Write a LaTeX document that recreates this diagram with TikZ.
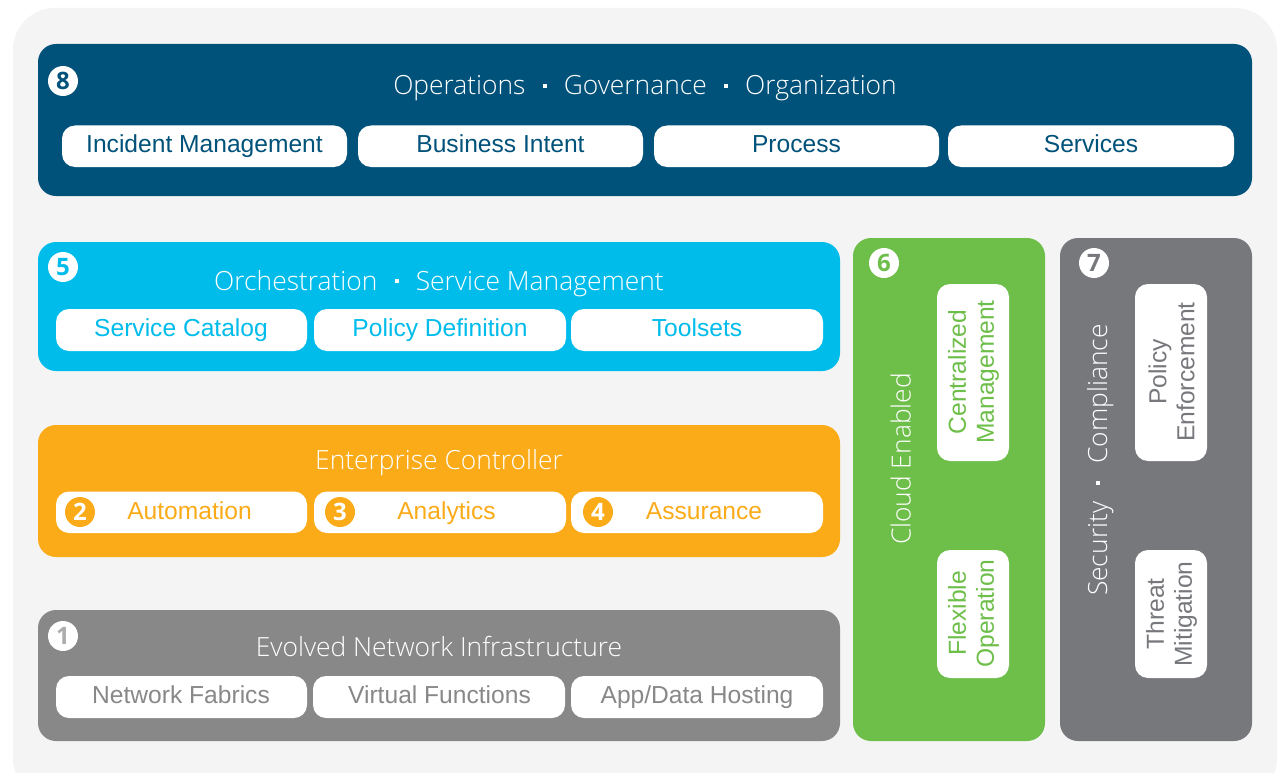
\documentclass[tikz,border=0pt]{standalone}
\usepackage{fontspec}
\setmainfont{Open Sans Light}
\newfontfamily\chipfont{Liberation Sans}
\newfontfamily\numfont{Open Sans}
\definecolor{bgc}{HTML}{F4F4F4}
\definecolor{navy}{HTML}{00527A}
\definecolor{sky}{HTML}{00BCEB}
\definecolor{amber}{HTML}{FBAB18}
\definecolor{midgray}{HTML}{888888}
\definecolor{leaf}{HTML}{6EBE4A}
\definecolor{slate}{HTML}{77787C}
\tikzset{
  x=1pt,y=-1pt,
  panel/.style={rounded corners=18pt,inner sep=0pt,fill=#1,draw=none},
  chip/.style={rounded corners=13pt,inner sep=0pt,fill=white,draw=none},
  title/.style={text=white,font=\fontsize{26.4}{30}\selectfont,inner sep=0pt,anchor=base},
  vtitle/.style={text=white,font=\fontsize{26.4}{30}\selectfont,inner sep=0pt,rotate=90,anchor=base},
  badge/.style={circle,inner sep=0pt,minimum size=30pt,fill=white,text=#1,font=\numfont\bfseries\fontsize{24}{24}\selectfont},
  badgeinv/.style={circle,inner sep=0pt,minimum size=30pt,fill=#1,text=white,font=\numfont\bfseries\fontsize{24}{24}\selectfont},
  chiplabel/.style={text=#1,inner sep=0pt,anchor=base,font=\chipfont\fontsize{24.6}{28}\selectfont},
  vlabel/.style={text=#1,inner sep=0pt,rotate=90,align=center,font=\chipfont\fontsize{24.6}{28}\selectfont},
}
\newcommand{\sep}{\hspace{0.65em}\raisebox{0.27em}{\rule{4pt}{4pt}}\hspace{0.65em}}
\newcommand{\rbox}[6]{% name, style, x0, y0, x1, y1
  \path[#2] (#3,#4) rectangle (#5,#6);
  \coordinate (#1) at ({(#3+#5)/2},{(#4+#6)/2});
}
\begin{document}
\begin{tikzpicture}
\useasboundingbox (0,0) rectangle (1282,773);
\fill[white] (0,0) rectangle (1282,773);
\begin{scope}
\clip (0,0) rectangle (1282,773);
\fill[bgc,rounded corners=42pt] (13,8) rectangle (1277,800);
\end{scope}
% panels
\rbox{p8}{panel=navy}{38}{44}{1252}{196}
\rbox{p5}{panel=sky}{38}{242}{840}{371}
\rbox{pc}{panel=amber}{38}{425}{840}{557}
\rbox{p1}{panel=midgray}{38}{610}{840}{741}
\rbox{p6}{panel=leaf}{853}{238}{1045}{741}
\rbox{p7}{panel=slate}{1060}{238}{1252}{741}
% titles
\node[title] (t8) at (645,95) {Operations\sep Governance\sep Organization};
\node[title] (t5) at (439,290.5) {Orchestration\sep Service Management};
\node[title] (tc) at (439,469) {Enterprise Controller};
\node[title] (t1) at (439,656) {Evolved Network Infrastructure};
\node[vtitle] (t6) at (910.5,459) {Cloud Enabled};
\node[vtitle] (t7) at (1107,460) {Security\sep Compliance};
% chips row 8
\rbox{c81}{chip}{62}{125.5}{347}{167}
\rbox{c82}{chip}{358}{125.5}{643}{167}
\rbox{c83}{chip}{654}{125.5}{939}{167}
\rbox{c84}{chip}{948}{125.5}{1234}{167}
\node[chiplabel=navy] (l81) at (204.5,152.5) {Incident Management};
\node[chiplabel=navy] (l82) at (500.5,152.5) {Business Intent};
\node[chiplabel=navy] (l83) at (796.5,152.5) {Process};
\node[chiplabel=navy] (l84) at (1091,152.5) {Services};
% chips row 5
\rbox{c51}{chip}{56}{309}{307}{351}
\rbox{c52}{chip}{314}{309}{566}{351}
\rbox{c53}{chip}{571}{309}{823}{351}
\node[chiplabel=sky] (l51) at (181,336.5) {Service Catalog};
\node[chiplabel=sky] (l52) at (440,336.5) {Policy Definition};
\node[chiplabel=sky] (l53) at (697,336.5) {Toolsets};
% chips controller
\rbox{c21}{chip}{56}{491.5}{307}{533}
\rbox{c22}{chip}{314}{491.5}{566}{533}
\rbox{c23}{chip}{571}{491.5}{823}{533}
\node[chiplabel=amber] (l21) at (189.5,519.5) {Automation};
\node[chiplabel=amber] (l22) at (446.5,519.5) {Analytics};
\node[chiplabel=amber] (l23) at (704,519.5) {Assurance};
% chips infra
\rbox{c11}{chip}{56}{676}{307}{718}
\rbox{c12}{chip}{313}{676}{565}{718}
\rbox{c13}{chip}{571}{676}{823}{718}
\node[chiplabel=midgray] (l11) at (181,703) {Network Fabrics};
\node[chiplabel=midgray] (l12) at (439.5,703) {Virtual Functions};
\node[chiplabel=midgray] (l13) at (697,703) {App/Data Hosting};
% vertical chips
\rbox{c61}{chip}{937}{284}{1009}{461}
\rbox{c62}{chip}{937}{550}{1009}{678}
\rbox{c71}{chip}{1135}{284}{1207}{461}
\rbox{c72}{chip}{1135}{550}{1207}{678}
\node[vlabel=leaf] (l61) at (973.5,372) {Centralized\\Management};
\node[vlabel=leaf] (l62) at (973.5,613.5) {Flexible\\Operation};
\node[vlabel=slate] (l71) at (1171.5,372) {Policy\\Enforcement};
\node[vlabel=slate] (l72) at (1171.5,614) {Threat\\Mitigation};
% badges
\node[badge=navy] (b8) at (63,81) {8};
\node[badge=sky] (b5) at (63,267) {5};
\node[badge=midgray!70] (b1) at (63,636) {1};
\node[badge=leaf] (b6) at (884,263) {6};
\node[badge=slate] (b7) at (1094,263) {7};
\node[badgeinv=amber] (b2) at (80,512) {2};
\node[badgeinv=amber] (b3) at (340,512) {3};
\node[badgeinv=amber] (b4) at (598,512) {4};
\end{tikzpicture}
\end{document}
